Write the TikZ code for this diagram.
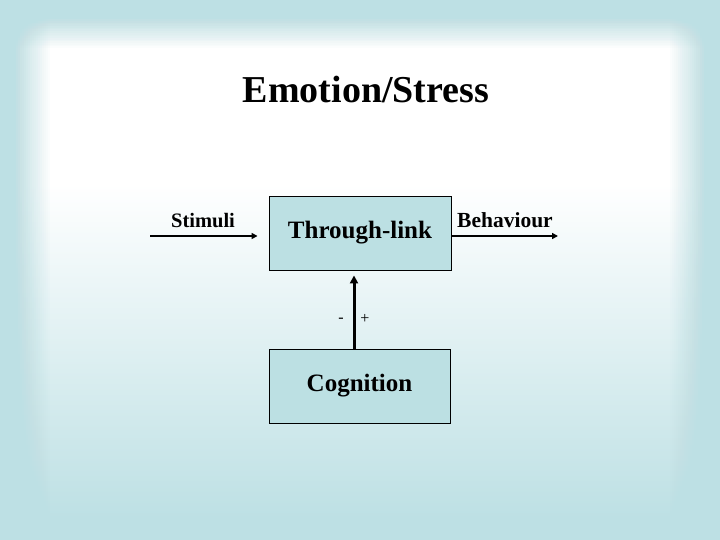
\documentclass[tikz,border=0pt]{standalone}
\usepackage{fontspec}
\setmainfont{Liberation Serif}
\usetikzlibrary{arrows.meta}
\definecolor{bgblue}{RGB}{189,224,228}
\definecolor{boxblue}{RGB}{188,224,227}
\pgfdeclareverticalshading{bgshade}{100bp}{color(0bp)=(bgblue); color(27bp)=(bgblue); color(58bp)=(white); color(100bp)=(white)}
\tikzset{
  box/.style={draw=black, line width=0.9pt, fill=boxblue, minimum width=182pt, minimum height=74pt, inner sep=0pt, font=\fontsize{25}{30}\selectfont\bfseries},
  lbl/.style={anchor=base, font=\fontsize{20.5}{24}\selectfont\bfseries},
  sign/.style={anchor=center, font=\fontsize{16}{18}\selectfont},
  harrow/.style={line width=2pt, -{Triangle[length=6pt,width=6pt]}},
  varrow/.style={line width=3pt, -{Triangle[length=8pt,width=8pt]}},
  edgeband/.style={fill=bgblue, draw=none}
}
\begin{document}
\begin{tikzpicture}[x=1pt,y=-1pt]
\useasboundingbox (0,0) rectangle (720,540);
% background
\shade[shading=bgshade] (0,0) rectangle (720,540);
\foreach \k in {0,...,19}{
  \pgfmathsetmacro{\op}{1/(\k+1)}
  \fill[edgeband, fill opacity=\op] (0,0) rectangle (720,{16+32*\k/19});
  \fill[edgeband, fill opacity=\op] (0,0) rectangle ({12+38*\k/19},540);
  \fill[edgeband, fill opacity=\op] (720,0) rectangle ({708-38*\k/19},540);
}
% title
\node[anchor=base, font=\fontsize{38}{44}\selectfont\bfseries] (title) at (366,103) {Emotion/Stress};
% boxes
\node[box] (tl) at (360,233) {Through-link};
\node[box, minimum width=181pt] (cog) at (359.5,386) {Cognition};
% coordinates
\coordinate (sin) at (150,236);
\coordinate (bout) at (558,236);
\coordinate (vx) at (354,0);
% connectors
\draw[harrow, shorten >=11pt] (sin) -- (sin -| tl.west);
\draw[harrow] (bout -| tl.east) -- (bout);
\draw[varrow, shorten >=5pt] (cog.north -| vx) -- (tl.south -| vx);
% labels
\node[lbl] (stim) at (203,227) {Stimuli};
\node[lbl, font=\fontsize{21.5}{25}\selectfont\bfseries] (beh) at (505,227) {Behaviour};
\node[sign] (minus) at (341,320) {-};
\node[sign] (plus) at (365,319) {+};
\end{tikzpicture}
\end{document}
